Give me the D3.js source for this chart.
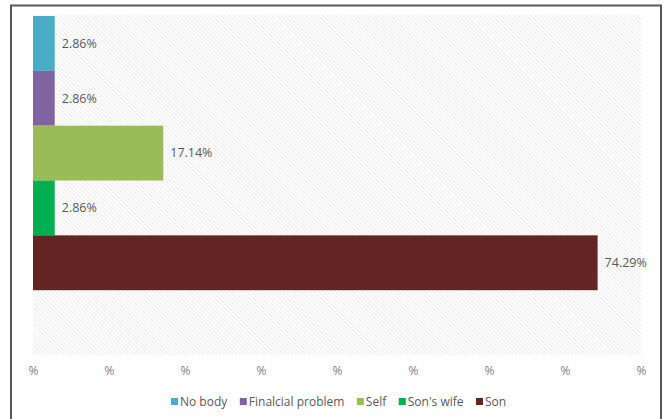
<!DOCTYPE html>
<html>
<head>
<meta charset="utf-8">
<script src="https://cdn.jsdelivr.net/npm/d3@7"></script>
<style>
  body { margin: 0; background: #fff; }
  text { font-family: "Open Sans", "DejaVu Sans", sans-serif; }
</style>
</head>
<body>
<div id="my_dataviz"></div>
<script>
// data
var categories = ["No body", "Finalcial problem", "Self", "Son's wife", "Son"];
var values = [2.86, 2.86, 17.14, 2.86, 74.29];
var colors = ["#4BACC6", "#8064A2", "#9BBB59", "#00B050", "#632523"];
var xTicks = [0, 10, 20, 30, 40, 50, 60, 70, 80];

var W = 667, H = 419;
var margin = { top: 15, right: 26, bottom: 64, left: 33 },
  width = W - margin.left - margin.right,
  height = H - margin.top - margin.bottom;

var svg = d3
  .select("#my_dataviz")
  .append("svg")
  .attr("width", W)
  .attr("height", H);

// hatch fill for the plot area
var defs = svg.append("defs");
var pat = defs
  .append("pattern")
  .attr("id", "hatch")
  .attr("patternUnits", "userSpaceOnUse")
  .attr("width", 3)
  .attr("height", 3)
  .attr("patternTransform", "rotate(-45)");
pat.append("rect").attr("width", 3).attr("height", 3).attr("fill", "#fff");
pat
  .append("line")
  .attr("x1", 0).attr("y1", 0)
  .attr("x2", 0).attr("y2", 3)
  .attr("stroke", "#e0e0e0")
  .attr("stroke-width", 1.3);

// outer frame
svg
  .append("path")
  .attr("d", "M11," + H + "V5.5H661V" + H)
  .attr("fill", "none")
  .attr("stroke", "#595959")
  .attr("stroke-width", 2);

var g = svg
  .append("g")
  .attr("transform", "translate(" + margin.left + "," + margin.top + ")");

g.append("rect")
  .attr("width", width)
  .attr("height", height)
  .attr("fill", "url(#hatch)");

var x = d3.scaleLinear().domain([0, 80]).range([0, width]);

// six slots, the last one stays empty
var bandH = height / 6.2;
var y = d3
  .scaleBand()
  .domain(categories)
  .range([1, 1 + bandH * categories.length])
  .padding(0);

// X axis (labels only show "%")
var xAxis = g
  .append("g")
  .attr("transform", "translate(0," + height + ")")
  .call(
    d3.axisBottom(x)
      .tickValues(xTicks)
      .tickSize(0)
      .tickPadding(11)
      .tickFormat(function () { return "%"; })
  );
xAxis.select(".domain").remove();
xAxis
  .selectAll("text")
  .attr("fill", "#7f7f7f")
  .style("font-family", "\"Open Sans\", sans-serif")
  .style("font-size", "12px");

// bars
g.selectAll(".bar")
  .data(values)
  .enter()
  .append("rect")
  .attr("class", "bar")
  .attr("x", x(0))
  .attr("y", function (d, i) { return y(categories[i]); })
  .attr("width", function (d) { return x(d) - x(0); })
  .attr("height", y.bandwidth())
  .attr("fill", function (d, i) { return colors[i]; });

// value labels
g.selectAll(".lbl")
  .data(values)
  .enter()
  .append("text")
  .attr("class", "lbl")
  .attr("x", function (d) { return x(d) + 7; })
  .attr("y", function (d, i) { return y(categories[i]) + y.bandwidth() / 2; })
  .attr("dy", "0.35em")
  .attr("fill", "#595959")
  .style("font-size", "12.5px")
  .text(function (d) { return d.toFixed(2) + "%"; });

// legend
var legend = svg.append("g").attr("transform", "translate(0,402)");
var lx = 171;
categories.forEach(function (c, i) {
  var item = legend.append("g").attr("transform", "translate(" + lx + ",0)");
  item
    .append("rect")
    .attr("x", 0)
    .attr("y", -4)
    .attr("width", 7)
    .attr("height", 7)
    .attr("fill", colors[i]);
  var t = item
    .append("text")
    .attr("x", 9)
    .attr("y", 0)
    .attr("dy", "0.35em")
    .attr("fill", "#595959")
    .style("font-size", "12px")
    .text(c);
  lx += 9 + t.node().getComputedTextLength() + 12.5;
});
</script>
</body>
</html>
